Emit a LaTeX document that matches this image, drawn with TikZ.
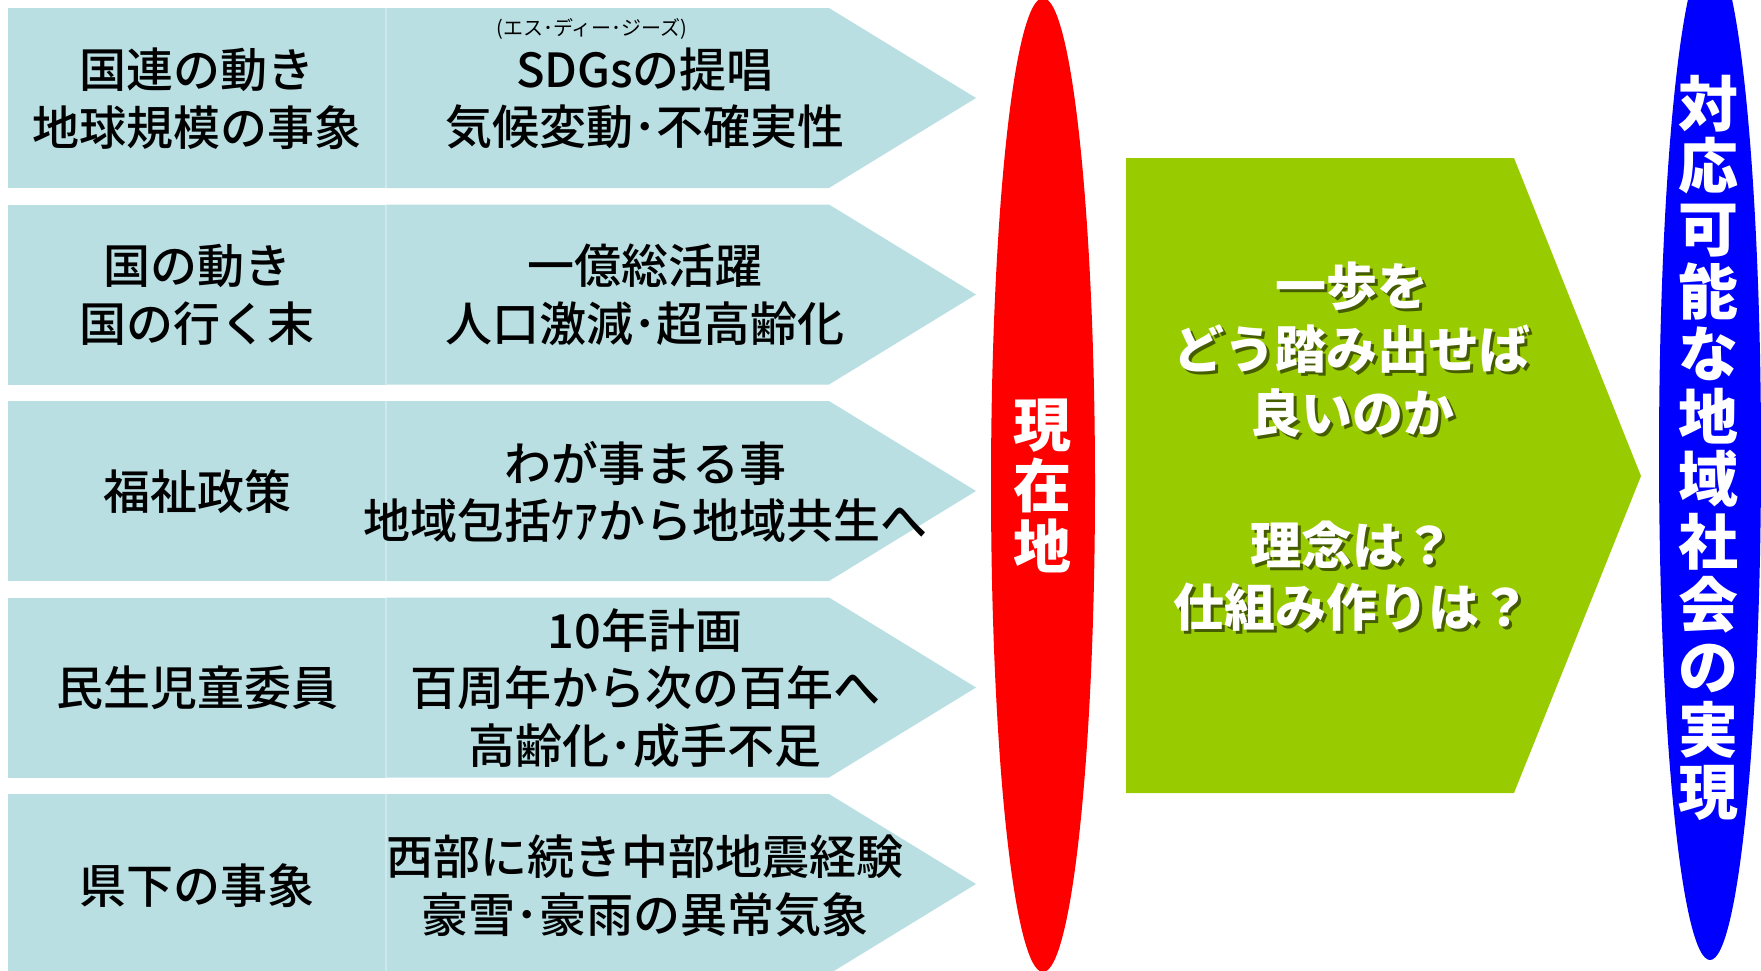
\documentclass[tikz,border=0pt]{standalone}
\usepackage{fontspec}
\newfontfamily\jp{Noto Sans CJK JP}
\newfontfamily\jpm{Noto Sans CJK JP Medium}
\definecolor{rowblue}{RGB}{185,223,227}
\definecolor{rowline}{RGB}{205,233,236}
\definecolor{stepgreen}{RGB}{153,204,0}
\definecolor{nowred}{RGB}{255,0,0}
\definecolor{goalblue}{RGB}{0,0,255}
\begin{document}
\begin{tikzpicture}[x=0.5pt,y=-0.5pt,
  rowfill/.style={fill=rowblue},
  divline/.style={draw=rowline,line width=0.6pt},
  lefttext/.style={font=\jpm\fontsize{23.5pt}{28.75pt}\selectfont,align=center,inner sep=0pt,text=black},
  smalltext/.style={font=\jp\fontsize{10pt}{12pt}\selectfont,inner sep=0pt,text=black},
  greentext/.style={font=\jp\bfseries\fontsize{25.5pt}{30pt}\selectfont,inner sep=0pt,text=white},
  greenshadow/.style={font=\jp\bfseries\fontsize{25.5pt}{30pt}\selectfont,inner sep=0pt,text=black,opacity=0.55},
  redtext/.style={font=\jp\bfseries\fontsize{29pt}{30.5pt}\selectfont,align=center,inner sep=0pt,text=white},
  bluetext/.style={font=\jp\bfseries\fontsize{30pt}{31.3pt}\selectfont,align=center,inner sep=0pt,text=white}]
\useasboundingbox (0,0) rectangle (1761,970);
\clip (0,0) rectangle (1761,970);

% rows
\foreach \t in {8,204.5,401,597.5,794}{
  \fill[rowfill] (8,\t) rectangle (386,\t+180);
  \fill[rowfill] (386,\t) -- (829,\t) -- (976,\t+90) -- (829,\t+180) -- (386,\t+180) -- cycle;
  \draw[divline] (386,\t) -- (386,\t+180);
}

% row texts
\node[lefttext] (l1) at (197,98.5) {国連の動き\\地球規模の事象};
\node[smalltext] (s1) at (592,29) {(エス･ディー･ジーズ)};
\node[lefttext] (r1) at (645,98.5) {SDGsの提唱\\気候変動･不確実性};

\node[lefttext] (l2) at (197,295) {国の動き\\国の行く末};
\node[lefttext] (r2) at (645,295) {一億総活躍\\人口激減･超高齢化};

\node[lefttext] (l3) at (197,492) {福祉政策};
\node[lefttext] (r3) at (645,492) {わが事まる事\\地域包括ｹｱから地域共生へ};

\node[lefttext] (l4) at (197,688) {民生児童委員};
\node[lefttext] (r4) at (645,688) {10年計画\\百周年から次の百年へ\\高齢化･成手不足};

\node[lefttext] (l5) at (197,886) {県下の事象};
\node[lefttext] (r5) at (645,886) {西部に続き中部地震経験\\豪雪･豪雨の異常気象};

% red ellipse
\fill[nowred] (1043,485) ellipse [x radius=26pt, y radius=243.5pt];
\node[redtext] (now) at (1042,486) {現\\在\\地};

% green step
\fill[stepgreen] (1126,158) -- (1514,158) -- (1641,476) -- (1514,793) -- (1126,793) -- cycle;
\foreach \n/\y/\s in {ga/286/一歩を, gb/349/どう踏み出せば, gc/413/良いのか, gd/545/理念は？, ge/607/仕組み作りは？}{
  \node[greenshadow] (\n s) at (1355,\y+3) {\s};
  \node[greentext] (\n) at (1352,\y) {\s};
}

% blue ellipse
\fill[goalblue] (1710,455) ellipse [x radius=25.5pt, y radius=252.5pt];
\node[bluetext] (goal) at (1708,448) {対\\応\\可\\能\\な\\地\\域\\社\\会\\の\\実\\現};
\end{tikzpicture}
\end{document}
